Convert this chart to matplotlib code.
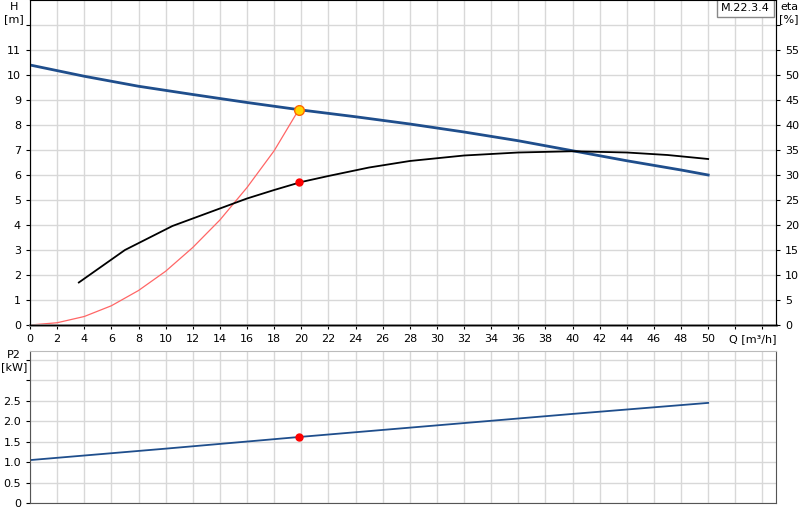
import matplotlib
matplotlib.use("Agg")
import matplotlib.pyplot as plt
import numpy as np

q_h = [0, 4, 8, 12, 16, 20, 24, 28, 32, 36, 40, 44, 48, 50]
h = [10.4, 9.95, 9.55, 9.22, 8.9, 8.6, 8.33, 8.04, 7.72, 7.37, 6.97, 6.57, 6.2, 6.0]
q_eta = [3.6, 7, 10.5, 14, 16, 18, 20, 22, 25, 28, 32, 36, 40, 44, 47, 50]
eta = [8.5, 15.0, 19.8, 23.3, 25.3, 27.0, 28.6, 29.8, 31.5, 32.8, 33.9, 34.5, 34.75, 34.5, 34.0, 33.2]
q_sys = [0, 2, 4, 6, 8, 10, 12, 14, 16, 18, 19.8]
h_sys = [0, 0.09, 0.34, 0.77, 1.38, 2.15, 3.1, 4.2, 5.5, 6.97, 8.6]
q_p = [0, 10, 20, 30, 40, 50]
p2 = [1.05, 1.33, 1.62, 1.9, 2.18, 2.45]
duty_q = 19.8
duty_h = 8.6
duty_eta = 28.6
duty_p = 1.62

fs = 8
fig = plt.figure(figsize=(8, 5.2), dpi=100)
ax = fig.add_axes([0.0375, 0.375, 0.9325, 0.625])
ax2 = fig.add_axes([0.0375, 0.0327, 0.9325, 0.2923])
grid_c = "#d8d8d8"
for a in (ax, ax2):
    a.set_xlim(0, 55)
    a.tick_params(labelsize=fs, length=3)
    a.grid(True, color=grid_c, lw=1)
    a.set_axisbelow(True)
    for s in ("left", "right", "top", "bottom"):
        a.spines[s].set_color("#555555")
    a.spines["top"].set_color("#bbbbbb")

ax.set_xticks(np.arange(0, 55, 2))
ax.set_xticklabels([str(v) if v <= 50 else "" for v in range(0, 55, 2)])
ax.set_ylim(0, 13)
ax.set_yticks(range(0, 13))
ax.set_yticklabels([str(v) for v in range(0, 12)] + [""])
ax.spines["bottom"].set_color("#888888")
ax.spines["bottom"].set_linewidth(2)
fig.text(14 / 800, 1 - 2 / 520, "H\n[m]", ha="center", va="top", fontsize=fs)
ax.text(53.3, -0.55, "Q [m³/h]", ha="center", va="center", fontsize=fs)

axr = ax.twinx()
axr.set_ylim(0, 65)
axr.set_yticks(range(0, 61, 5))
axr.set_yticklabels([str(v) for v in range(0, 56, 5)] + [""])
axr.tick_params(labelsize=fs, length=3)
fig.text(789 / 800, 1 - 2 / 520, "eta\n[%]", ha="center", va="top", fontsize=fs)

ax.plot(q_h, h, color="#1f4e8c", lw=2)
ax.plot(q_sys, h_sys, color="#ff6666", lw=0.9)
axr.plot(q_eta, eta, color="black", lw=1.3)
axr.plot([duty_q], [duty_eta], "o", color="red", ms=5)
ax.plot([duty_q], [duty_h], "o", color="#ffd700", mec="#ff6600", ms=7, zorder=5)
ax.text(0.992, 0.99, "M.22.3.4", transform=ax.transAxes, ha="right", va="top", fontsize=fs,
        bbox=dict(boxstyle="square,pad=0.35", fc="white", ec="#888888"))

ax2.set_xticks(np.arange(0, 55, 2))
ax2.set_ylim(0, 3.72)
ax2.set_yticks(np.arange(0, 3.6, 0.5))
ax2.set_yticklabels(["0", "0.5", "1.0", "1.5", "2.0", "2.5", "", ""])
ax2.set_xticklabels([])
ax2.tick_params(axis="x", length=0)
fig.text(14 / 800, 1 - 350 / 520, "P2\n[kW]", ha="center", va="top", fontsize=fs)
ax2.plot(q_p, p2, color="#1f4e8c", lw=1.3)
ax2.plot([duty_q], [duty_p], "o", color="red", ms=5)

fig.savefig("out.png", dpi=100)
